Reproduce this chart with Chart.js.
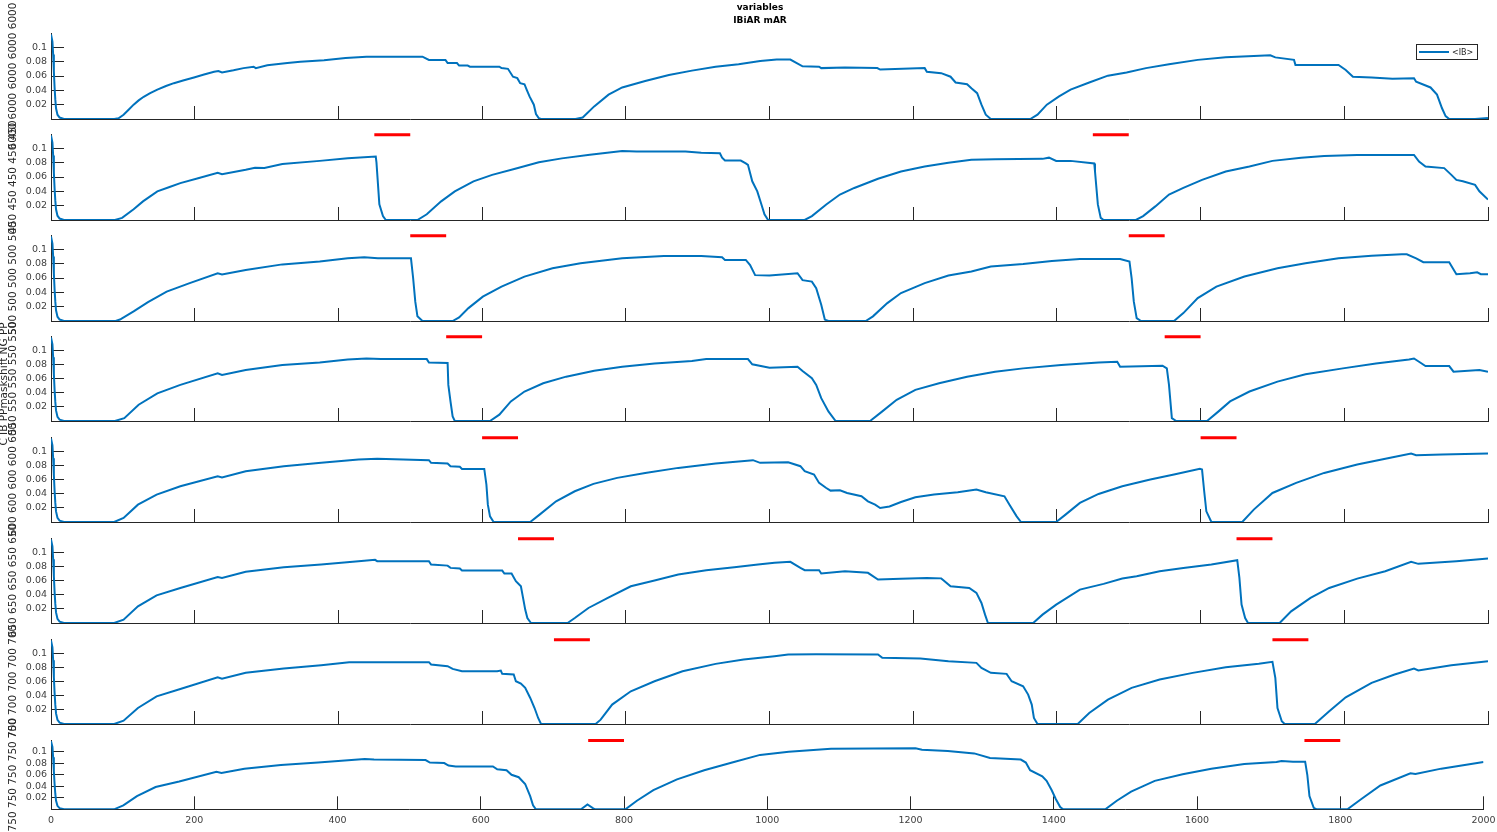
<!DOCTYPE html>
<html>
<head>
<meta charset="utf-8">
<script src="https://cdn.jsdelivr.net/npm/chart.js@4.4.1/dist/chart.umd.min.js"></script>
<style>
  html, body { margin: 0; padding: 0; background: #fff; }
  #wrap { position: relative; width: 1497px; height: 832px; overflow: hidden; }
  #wrap canvas { position: absolute; left: 0; top: 0; }
</style>
</head>
<body>
<div id="wrap"></div>
<script>
// tick values
const xTicks = [0, 200, 400, 600, 800, 1000, 1200, 1400, 1600, 1800, 2000];
const yTicks = [0.02, 0.04, 0.06, 0.08, 0.1];

// texts
const figTitle = ['variables', 'IBiAR mAR'];
const sideLabel = 'C IB PPmaskshift NG PP';
const legendLabel = '<IB>';
const panelLabels = [
  '6000 6000 6000 6000 6000',
  '450 450 450 450 450',
  '500 500 500 500 500',
  '550 550 550 550 550',
  '600 600 600 600 600',
  '650 650 650 650 650',
  '700 700 700 700 700',
  '750 750 750 750 750'
];

// red marker segments per panel [start, end]
const redLevel = 0.119;
const redMarks = [
  [],
  [[450, 500], [1450, 1500]],
  [[500, 550], [1500, 1550]],
  [[550, 600], [1550, 1600]],
  [[600, 650], [1600, 1650]],
  [[650, 700], [1650, 1700]],
  [[700, 750], [1700, 1750]],
  [[750, 800], [1750, 1800]]
];

// <IB> series, [x, value]
const ib6000 = [[0,0.118],[2,0.108],[3,0.09],[4,0.066],[5,0.044],[6,0.027],[7,0.015],[9,0.006],[12,0.002],[18,0],
  [88,0],[94,0.001],[101,0.006],[108,0.013],[115,0.02],[122,0.026],[129,0.031],[138,0.036],[148,0.041],[160,0.046],[171,0.05],[185,0.054],[199,0.058],[213,0.062],[227,0.066],[233,0.067],[238,0.065],[254,0.068],[268,0.071],[282,0.073],[285,0.071],[301,0.075],[329,0.078],[347,0.08],[380,0.082],[410,0.085],[439,0.087],[517,0.087],[526,0.0825],[549,0.0825],[552,0.078],[565,0.078],[568,0.0745],[580,0.0745],[583,0.073],[624,0.073],[627,0.071],[636,0.07],[643,0.059],[649,0.057],[653,0.05],[659,0.0485],[662,0.041],[666,0.0315],[672,0.02],[675,0.007],[679,0.001],[682,0],
  [730,0],[740,0.002],[756,0.0176],[776,0.034],[795,0.044],[827,0.053],[860,0.0615],[892,0.0675],[925,0.073],[957,0.0765],[987,0.081],[1010,0.083],[1029,0.083],[1046,0.0735],[1069,0.073],[1072,0.071],[1105,0.072],[1150,0.071],[1154,0.069],[1216,0.071],[1219,0.066],[1239,0.064],[1252,0.059],[1259,0.051],[1275,0.0485],[1281,0.043],[1289,0.036],[1295,0.02],[1301,0.006],[1308,0],
  [1363,0],[1373,0.006],[1386,0.02],[1403,0.0315],[1419,0.041],[1445,0.051],[1471,0.0605],[1497,0.065],[1524,0.071],[1556,0.0765],[1596,0.0825],[1635,0.086],[1674,0.088],[1697,0.089],[1704,0.086],[1730,0.0825],[1732,0.0755],[1792,0.0755],[1802,0.0685],[1812,0.059],[1838,0.058],[1867,0.056],[1897,0.057],[1900,0.052],[1920,0.044],[1929,0.034],[1936,0.015],[1941,0.004],[1946,0],[1982,0],[2000,0.0015]];

const ib450 = [[0,0.118],[2,0.108],[3,0.09],[4,0.066],[5,0.044],[6,0.027],[7,0.015],[9,0.006],[12,0.002],[18,0],
  [89,0],[99,0.003],[115,0.015],[128,0.026],[148,0.04],[165,0.046],[180,0.0515],[206,0.0585],[232,0.066],[238,0.064],[271,0.07],[284,0.073],[297,0.0725],[322,0.078],[374,0.0825],[413,0.086],[452,0.0885],[453,0.08],[457,0.022],[462,0.0055],[466,0],
  [510,0],[523,0.008],[543,0.026],[562,0.04],[588,0.054],[614,0.063],[646,0.0715],[679,0.0805],[711,0.086],[750,0.091],[795,0.0963],[815,0.0955],[883,0.0955],[905,0.094],[931,0.093],[934,0.087],[938,0.083],[960,0.083],[967,0.079],[970,0.077],[976,0.054],[983,0.04],[988,0.024],[993,0.008],[998,0],
  [1049,0],[1059,0.0055],[1079,0.0217],[1098,0.0355],[1118,0.0447],[1151,0.0576],[1183,0.0677],[1216,0.0747],[1249,0.08],[1281,0.084],[1314,0.0848],[1380,0.0853],[1389,0.087],[1399,0.0825],[1419,0.0825],[1452,0.079],[1453,0.068],[1457,0.0217],[1461,0.003],[1465,0],
  [1510,0],[1520,0.0055],[1537,0.019],[1556,0.0355],[1576,0.0447],[1602,0.056],[1635,0.0677],[1668,0.0747],[1700,0.0825],[1740,0.087],[1772,0.0894],[1818,0.0908],[1897,0.0908],[1904,0.0816],[1913,0.0747],[1939,0.0724],[1949,0.063],[1956,0.056],[1965,0.054],[1982,0.049],[1988,0.04],[2000,0.0286]];

const ib500 = [[0,0.118],[2,0.108],[3,0.09],[4,0.066],[5,0.044],[6,0.027],[7,0.015],[9,0.006],[12,0.002],[18,0],
  [90,0],[96,0.002],[115,0.0134],[135,0.0264],[161,0.041],[193,0.0528],[232,0.0667],[238,0.065],[271,0.0713],[322,0.079],[374,0.083],[413,0.0875],[436,0.0889],[455,0.0875],[501,0.0875],[504,0.06],[507,0.027],[510,0.0065],[517,0],
  [559,0],[568,0.005],[581,0.018],[601,0.034],[627,0.048],[659,0.062],[698,0.0736],[737,0.0806],[795,0.0875],[853,0.0907],[905,0.0907],[934,0.0889],[938,0.0852],[967,0.0852],[973,0.078],[980,0.064],[1000,0.0634],[1039,0.0667],[1046,0.057],[1059,0.055],[1065,0.0458],[1072,0.0227],[1077,0.002],[1082,0],
  [1134,0],[1144,0.0065],[1164,0.025],[1183,0.039],[1216,0.0528],[1249,0.0634],[1281,0.069],[1308,0.076],[1353,0.0796],[1393,0.0838],[1432,0.0866],[1488,0.0866],[1501,0.083],[1504,0.0597],[1507,0.0273],[1511,0.004],[1517,0],
  [1563,0],[1576,0.011],[1596,0.032],[1622,0.048],[1661,0.062],[1707,0.0736],[1746,0.0806],[1792,0.0875],[1838,0.0912],[1880,0.093],[1887,0.093],[1900,0.0875],[1910,0.082],[1946,0.082],[1956,0.0653],[1975,0.0667],[1985,0.068],[1990,0.0653],[2000,0.0653]];

const ib550 = [[0,0.118],[2,0.108],[3,0.09],[4,0.066],[5,0.044],[6,0.027],[7,0.015],[9,0.006],[12,0.002],[18,0],
  [89,0],[102,0.004],[122,0.023],[148,0.039],[180,0.051],[232,0.0673],[238,0.065],[271,0.072],[322,0.079],[374,0.0827],[413,0.0869],[439,0.0883],[459,0.0874],[523,0.0874],[526,0.0827],[552,0.0818],[553,0.051],[556,0.0276],[559,0.0065],[562,0],
  [611,0],[624,0.009],[640,0.0276],[659,0.0416],[685,0.0533],[717,0.0626],[756,0.071],[795,0.0766],[840,0.0813],[892,0.0846],[912,0.0874],[970,0.0874],[976,0.08],[1000,0.0752],[1039,0.0766],[1046,0.0706],[1059,0.0603],[1065,0.051],[1072,0.0322],[1082,0.0136],[1092,0],
  [1140,0],[1157,0.0136],[1177,0.03],[1203,0.044],[1236,0.0533],[1275,0.0626],[1314,0.0696],[1353,0.0743],[1406,0.079],[1458,0.0827],[1484,0.0836],[1488,0.0766],[1547,0.078],[1553,0.0743],[1556,0.051],[1560,0.004],[1566,0],
  [1609,0],[1625,0.0136],[1641,0.0276],[1668,0.0416],[1707,0.0556],[1746,0.0659],[1798,0.0743],[1844,0.0813],[1890,0.0869],[1897,0.0883],[1904,0.0836],[1913,0.0776],[1946,0.0776],[1952,0.0696],[1988,0.072],[2000,0.0696]];

const ib600 = [[0,0.118],[2,0.108],[3,0.09],[4,0.066],[5,0.044],[6,0.027],[7,0.015],[9,0.006],[12,0.002],[18,0],
  [88,0],[101,0.0057],[121,0.0245],[147,0.0387],[180,0.0505],[232,0.0646],[238,0.063],[271,0.0717],[324,0.0788],[376,0.0835],[428,0.0882],[454,0.0892],[526,0.0873],[529,0.0835],[552,0.0826],[556,0.0788],[569,0.078],[572,0.075],[603,0.075],[606,0.0528],[608,0.0245],[611,0.008],[616,0],
  [667,0],[680,0.0104],[703,0.0292],[729,0.0434],[755,0.0538],[788,0.0623],[827,0.0693],[873,0.0764],[925,0.0825],[977,0.0873],[987,0.0835],[1026,0.0844],[1043,0.0788],[1049,0.0717],[1062,0.067],[1069,0.0552],[1079,0.048],[1085,0.0443],[1098,0.0448],[1108,0.041],[1128,0.0363],[1137,0.0292],[1147,0.0245],[1154,0.0198],[1167,0.022],[1183,0.0283],[1203,0.035],[1229,0.0387],[1262,0.042],[1288,0.0458],[1301,0.042],[1327,0.0363],[1334,0.0245],[1344,0.008],[1350,0],
  [1399,0],[1412,0.0104],[1432,0.0269],[1458,0.0396],[1491,0.0505],[1530,0.0599],[1563,0.067],[1599,0.075],[1602,0.074],[1605,0.0434],[1608,0.0151],[1615,0],
  [1658,0],[1674,0.0175],[1700,0.041],[1733,0.0552],[1772,0.0693],[1818,0.0811],[1864,0.0906],[1893,0.0967],[1900,0.0943],[1936,0.0953],[2000,0.0967]];

const ib650 = [[0,0.118],[2,0.108],[3,0.09],[4,0.066],[5,0.044],[6,0.027],[7,0.015],[9,0.006],[12,0.002],[18,0],
  [88,0],[101,0.0047],[121,0.0236],[147,0.039],[180,0.0495],[232,0.065],[238,0.0637],[271,0.0722],[324,0.0788],[376,0.0825],[428,0.0873],[451,0.0892],[454,0.0873],[526,0.0873],[529,0.0825],[552,0.081],[556,0.0778],[569,0.077],[572,0.074],[628,0.074],[631,0.0698],[641,0.0698],[647,0.059],[654,0.0519],[657,0.0354],[660,0.0189],[663,0.007],[668,0],
  [719,0],[729,0.007],[748,0.0212],[775,0.0354],[807,0.0519],[840,0.06],[873,0.0684],[912,0.0745],[951,0.0788],[984,0.0825],[1007,0.0849],[1029,0.0863],[1043,0.0778],[1049,0.0745],[1069,0.0745],[1072,0.0698],[1105,0.0731],[1137,0.0708],[1151,0.0613],[1183,0.0623],[1219,0.0637],[1239,0.063],[1242,0.0604],[1252,0.0519],[1278,0.0495],[1288,0.0425],[1295,0.0283],[1300,0.0118],[1304,0],
  [1367,0],[1380,0.0118],[1399,0.026],[1432,0.0472],[1465,0.0552],[1491,0.0627],[1511,0.066],[1543,0.0731],[1576,0.0778],[1615,0.0825],[1651,0.0887],[1654,0.0637],[1657,0.026],[1662,0.007],[1666,0],
  [1710,0],[1726,0.0165],[1753,0.0354],[1779,0.0495],[1818,0.0627],[1857,0.0731],[1893,0.0863],[1903,0.0835],[1956,0.0873],[2000,0.091]];

const ib700 = [[0,0.118],[2,0.108],[3,0.09],[4,0.066],[5,0.044],[6,0.027],[7,0.015],[9,0.006],[12,0.002],[18,0],
  [88,0],[101,0.0047],[121,0.0226],[147,0.039],[180,0.0495],[232,0.066],[238,0.064],[271,0.0722],[324,0.0783],[376,0.083],[415,0.0873],[526,0.0873],[529,0.084],[552,0.0816],[559,0.0778],[572,0.0745],[621,0.0745],[626,0.0755],[628,0.0708],[644,0.0698],[647,0.0604],[654,0.057],[660,0.051],[667,0.0368],[673,0.0226],[678,0.0085],[682,0],
  [758,0],[765,0.0061],[781,0.0274],[807,0.0462],[840,0.0604],[879,0.0745],[925,0.0849],[964,0.091],[1007,0.0958],[1026,0.0981],[1065,0.0986],[1151,0.0981],[1157,0.0934],[1210,0.0925],[1249,0.0887],[1288,0.0863],[1295,0.0792],[1308,0.0722],[1330,0.0708],[1337,0.0604],[1353,0.0533],[1360,0.0415],[1365,0.0274],[1368,0.0085],[1373,0],
  [1429,0],[1445,0.0156],[1471,0.0344],[1504,0.051],[1543,0.0627],[1589,0.0722],[1635,0.0802],[1681,0.0849],[1700,0.0877],[1704,0.0651],[1707,0.0226],[1713,0.0038],[1717,0],
  [1759,0],[1779,0.0179],[1802,0.0377],[1838,0.058],[1870,0.0698],[1897,0.0783],[1903,0.0755],[1949,0.083],[2000,0.0887]];

const ib750 = [[0,0.118],[2,0.108],[3,0.09],[4,0.066],[5,0.044],[6,0.027],[7,0.015],[9,0.006],[12,0.002],[18,0],
  [88,0],[101,0.0069],[120,0.0228],[146,0.0386],[179,0.048],[231,0.065],[238,0.063],[270,0.0704],[321,0.0767],[373,0.081],[438,0.0873],[451,0.0862],[523,0.0852],[529,0.081],[549,0.08],[555,0.0757],[565,0.0741],[617,0.0741],[623,0.0693],[636,0.0677],[643,0.0598],[653,0.0556],[662,0.0439],[669,0.0228],[673,0.0069],[677,0],
  [740,0],[749,0.0085],[757,0.0016],[760,0],
  [802,0],[818,0.0148],[841,0.0333],[874,0.0519],[912,0.0677],[951,0.081],[990,0.0942],[1030,0.0995],[1089,0.1048],[1207,0.1058],[1216,0.1032],[1252,0.101],[1289,0.0968],[1311,0.0889],[1354,0.0862],[1361,0.081],[1367,0.0677],[1384,0.0571],[1390,0.0492],[1397,0.0333],[1403,0.0175],[1409,0.004],[1413,0],
  [1472,0],[1488,0.0148],[1508,0.0307],[1541,0.0492],[1580,0.0608],[1620,0.0704],[1666,0.0783],[1711,0.082],[1718,0.0836],[1734,0.0825],[1751,0.0825],[1754,0.0598],[1757,0.0228],[1763,0.0026],[1767,0],
  [1810,0],[1829,0.0175],[1856,0.0413],[1898,0.0624],[1905,0.061],[1941,0.0704],[2000,0.082]];

const series = [ib6000, ib450, ib500, ib550, ib600, ib650, ib700, ib750];

// layout of the eight axes (pixels)
const panelTop = [33, 134, 235, 336, 437, 538, 639, 740];
const panelBottom = [119, 220, 321, 421, 522, 623, 724, 816];
const W = 1497, H = 832;

Chart.defaults.font.family = "'DejaVu Sans', sans-serif";

const textPlugin = {
  id: 'figText',
  afterDraw(chart, args, opts) {
    const ctx = chart.ctx;
    const a = chart.chartArea;
    ctx.save();
    ctx.fillStyle = '#262626';
    if (opts.ylabel) {
      ctx.save();
      ctx.translate(13, (a.top + a.bottom) / 2);
      ctx.rotate(-Math.PI / 2);
      ctx.font = "10.5px 'DejaVu Sans'";
      ctx.textAlign = 'center';
      ctx.textBaseline = 'middle';
      ctx.fillText(opts.ylabel, 0, 0);
      ctx.restore();
    }
    if (opts.figure) {
      ctx.save();
      ctx.translate(4.5, 384);
      ctx.rotate(-Math.PI / 2);
      ctx.font = "10.5px 'DejaVu Sans'";
      ctx.textAlign = 'center';
      ctx.textBaseline = 'middle';
      ctx.fillText(sideLabel, 0, 0);
      ctx.restore();

      ctx.font = "bold 9px 'DejaVu Sans'";
      ctx.textAlign = 'center';
      ctx.textBaseline = 'alphabetic';
      ctx.fillStyle = '#000';
      ctx.fillText(figTitle[0], 760, 10);
      ctx.fillText(figTitle[1], 760, 23);

      // legend box inside the first axes
      ctx.fillStyle = '#fff';
      ctx.fillRect(1416.5, 44.5, 61, 15);
      ctx.strokeStyle = '#262626';
      ctx.lineWidth = 1;
      ctx.strokeRect(1416.5, 44.5, 61, 15);
      ctx.strokeStyle = '#0072BD';
      ctx.lineWidth = 2;
      ctx.beginPath();
      ctx.moveTo(1419, 52);
      ctx.lineTo(1449, 52);
      ctx.stroke();
      ctx.fillStyle = '#262626';
      ctx.font = "8px 'DejaVu Sans'";
      ctx.textAlign = 'left';
      ctx.textBaseline = 'middle';
      ctx.fillText(legendLabel, 1452, 52.5);
    }
    ctx.restore();
  }
};

const wrap = document.getElementById('wrap');

series.forEach((pts, i) => {
  const last = i === series.length - 1;
  const right = last ? 1483.5 : 1488;
  const canvas = document.createElement('canvas');
  canvas.width = W;
  canvas.height = H;
  wrap.appendChild(canvas);

  const red = [];
  redMarks[i].forEach(seg => {
    red.push({x: seg[0], y: redLevel}, {x: seg[1], y: redLevel}, {x: seg[1] + 1, y: null});
  });

  new Chart(canvas, {
    type: 'line',
    data: {
      datasets: [
        {
          label: legendLabel,
          data: pts.map(p => ({x: p[0], y: p[1]})),
          borderColor: '#0072BD',
          borderWidth: 2,
          pointRadius: 0,
          tension: 0
        },
        {
          label: 'marks',
          data: red,
          borderColor: '#FF0000',
          borderWidth: 3,
          pointRadius: 0,
          spanGaps: false,
          clip: false
        }
      ]
    },
    options: {
      responsive: false,
      animation: false,
      devicePixelRatio: 1,
      layout: {
        padding: {top: panelTop[i], bottom: H - panelBottom[i] - (last ? 16 : 0), left: 0, right: W - right}
      },
      plugins: {
        legend: {display: false},
        tooltip: {enabled: false},
        figText: {ylabel: panelLabels[i], figure: i === 0}
      },
      scales: {
        x: {
          type: 'linear',
          min: 0,
          max: 2000,
          afterBuildTicks: s => { s.ticks = xTicks.map(v => ({value: v})); },
          afterFit: s => { s.height = last ? 16 : 0; s.paddingLeft = 0; s.paddingRight = 0; },
          border: {display: true, color: '#262626', width: 1},
          grid: {drawOnChartArea: false, drawTicks: true, tickLength: -13, color: '#262626', lineWidth: 1},
          ticks: {display: last, padding: 18.5, maxRotation: 0, autoSkip: false, color: '#404040', font: {size: 9.5},
                  callback: v => String(v)}
        },
        y: {
          min: 0,
          max: 0.12,
          afterBuildTicks: s => { s.ticks = yTicks.map(v => ({value: v})); },
          afterFit: s => { s.width = 51; },
          border: {display: true, color: '#262626', width: 1},
          grid: {drawOnChartArea: false, drawTicks: true, tickLength: -13, color: '#262626', lineWidth: 1},
          ticks: {padding: 17, color: '#404040', font: {size: 9.5}, callback: v => String(+v.toFixed(2))}
        }
      }
    },
    plugins: [textPlugin]
  });
});
</script>
</body>
</html>
